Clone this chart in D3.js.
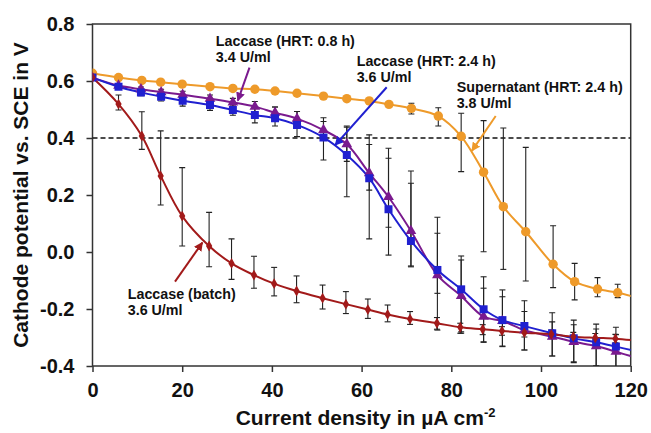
<!DOCTYPE html>
<html>
<head>
<meta charset="utf-8">
<script src="https://cdn.jsdelivr.net/npm/d3@7"></script>
<style>
  body { margin: 0; background: #fff; }
  text { font-family: "Liberation Sans", Arial, sans-serif; font-weight: bold; fill: #111; }
</style>
</head>
<body>
<div id="chart"></div>
<script>
// frame size
const FRAME_WIDTH = 651;
const FRAME_HEIGHT = 433;
const MARGINS = {left: 92.5, right: 20.3, top: 24, bottom: 67};

const VIS_WIDTH = FRAME_WIDTH - MARGINS.left - MARGINS.right;
const VIS_HEIGHT = FRAME_HEIGHT - MARGINS.top - MARGINS.bottom;

// ticks
const X_TICKS = [0, 20, 40, 60, 80, 100, 120];
const Y_TICKS = [-0.4, -0.2, 0.0, 0.2, 0.4, 0.6, 0.8];
const Y_TICK_LABELS = ["-0.4", "-0.2", "0.0", "0.2", "0.4", "0.6", "0.8"];

// Laccase (batch) - red
const X_BATCH = [0, 5.8, 11, 15.2, 20, 26, 31, 36, 40.5, 45.5, 51.3, 56.5, 61.4, 65.8, 70.8, 76.8, 82, 87, 91.3, 96.3, 102.3, 107.2, 112.1, 116.6, 121.5];
const Y_BATCH = [0.612, 0.519, 0.407, 0.267, 0.126, 0.021, -0.040, -0.081, -0.111, -0.137, -0.162, -0.183, -0.202, -0.219, -0.235, -0.250, -0.264, -0.271, -0.277, -0.283, -0.289, -0.297, -0.301, -0.304, -0.311];
const UP_BATCH = [0, 0.032, 0.085, 0.158, 0.170, 0.118, 0.086, 0.066, 0.057, 0.053, 0.046, 0.044, 0.037, 0.033, 0.026, 0.020, 0.014, 0.016, 0.015, 0.015, 0.015, 0.015, 0.015, 0.015, 0];
const DOWN_BATCH = [0, 0.021, 0.047, 0.102, 0.105, 0.073, 0.056, 0.046, 0.043, 0.041, 0.038, 0.033, 0.031, 0.026, 0.019, 0.021, 0.021, 0.019, 0.015, 0.015, 0.015, 0.015, 0.015, 0.015, 0];

// Supernatant (HRT 2.4 h) - orange
const X_SUPER = [0, 5.8, 11, 15.2, 20, 26.2, 31.3, 36.2, 40.7, 45.6, 51.5, 56.7, 61.7, 66.1, 71.1, 77.1, 82.2, 87.2, 91.6, 96.6, 102.7, 107.5, 112.6, 117.1, 121.5];
const Y_SUPER = [0.627, 0.612, 0.602, 0.596, 0.589, 0.580, 0.574, 0.571, 0.565, 0.557, 0.547, 0.538, 0.530, 0.518, 0.504, 0.477, 0.406, 0.280, 0.159, 0.071, -0.043, -0.104, -0.130, -0.143, -0.160];
const UP_SUPER = [0, 0, 0, 0, 0, 0, 0, 0, 0, 0, 0, 0, 0.006, 0.010, 0.018, 0.029, 0.081, 0.181, 0.276, 0.296, 0.135, 0.064, 0.040, 0.030, 0];
const DOWN_SUPER = [0, 0, 0, 0, 0, 0, 0, 0, 0, 0, 0, 0, 0.006, 0.010, 0.020, 0.035, 0.124, 0.279, 0.220, 0.173, 0.082, 0.064, 0.027, 0.017, 0];

// Laccase (HRT 2.4 h) - blue
const X_HRT24 = [0, 5.8, 10.8, 15.3, 20.1, 26.2, 31.3, 36.2, 40.7, 45.6, 51.5, 56.7, 61.7, 66, 71, 76.9, 82.2, 87.2, 91.4, 96.3, 102.5, 107.3, 112.3, 116.7, 121.5];
const Y_HRT24 = [0.612, 0.580, 0.560, 0.545, 0.531, 0.516, 0.498, 0.481, 0.469, 0.446, 0.402, 0.340, 0.259, 0.150, 0.039, -0.063, -0.131, -0.201, -0.239, -0.260, -0.285, -0.303, -0.317, -0.332, -0.349];
const UP_HRT24 = [0, 0.008, 0.012, 0.015, 0.019, 0.019, 0.018, 0.028, 0.040, 0.047, 0.069, 0.102, 0.152, 0.214, 0.245, 0.129, 0.117, 0.114, 0.106, 0.089, 0.072, 0.064, 0.064, 0.068, 0];
const DOWN_HRT24 = [0, 0.008, 0.012, 0.015, 0.019, 0.019, 0.018, 0.028, 0.027, 0.041, 0.079, 0.146, 0.213, 0.161, 0.091, 0.211, 0.149, 0.114, 0.091, 0.084, 0.080, 0.085, 0.083, 0.078, 0];

// Laccase (HRT 0.8 h) - purple
const X_HRT08 = [0, 5.8, 10.8, 15.3, 20.1, 26.2, 31.3, 36.2, 40.7, 45.6, 51.5, 56.7, 61.7, 66, 71, 76.9, 82.2, 87.2, 91.4, 96.3, 102.5, 107.3, 112.3, 116.7, 121.5];
const Y_HRT08 = [0.612, 0.584, 0.571, 0.561, 0.552, 0.538, 0.525, 0.510, 0.489, 0.468, 0.428, 0.378, 0.277, 0.193, 0.074, -0.081, -0.154, -0.227, -0.242, -0.274, -0.297, -0.315, -0.330, -0.350, -0.372];
const UP_HRT08 = [0, 0.006, 0.008, 0.010, 0.012, 0.013, 0.014, 0.018, 0.020, 0.025, 0.030, 0.060, 0.100, 0.136, 0.167, 0.203, 0.126, 0.100, 0.085, 0.065, 0.052, 0.060, 0.060, 0.060, 0];
const DOWN_HRT08 = [0, 0.006, 0.008, 0.010, 0.012, 0.013, 0.014, 0.018, 0.020, 0.025, 0.030, 0.060, 0.060, 0.106, 0.123, 0.064, 0.131, 0.090, 0.090, 0.070, 0.068, 0.070, 0.070, 0.060, 0];

// reference line
const REF_LINE = 0.4;

// annotations (label position and arrow from -> to, in data units)
const NOTE_LINES = [["Laccase (HRT: 0.8 h)", "3.4 U/ml"], ["Laccase (HRT: 2.4 h)", "3.6 U/ml"], ["Supernatant (HRT: 2.4 h)", "3.8 U/ml"], ["Laccase (batch)", "3.6 U/ml"]];
const NOTE_X = [27.5, 58.9, 81.2, 7.85];
const NOTE_Y = [0.723, 0.653, 0.560, -0.166];
const ARROW_FROM = [[35.0, 0.647], [65.6, 0.578], [89.9, 0.477], [18.4, -0.104]];
const ARROW_TO = [[32.4, 0.531], [54.1, 0.375], [84.6, 0.355], [24.5, 0.033]];

const COLORS = {batch: "#a21a1a", super: "#ee9a2a", hrt24: "#2020d0", hrt08: "#7a1a8e"};
const NOTE_COLORS = [COLORS.hrt08, COLORS.hrt24, COLORS.super, COLORS.batch];

const SERIES = [
  {key: "super", x: X_SUPER, y: Y_SUPER, up: UP_SUPER, down: DOWN_SUPER, shape: "circle"},
  {key: "hrt08", x: X_HRT08, y: Y_HRT08, up: UP_HRT08, down: DOWN_HRT08, shape: "triangle"},
  {key: "hrt24", x: X_HRT24, y: Y_HRT24, up: UP_HRT24, down: DOWN_HRT24, shape: "square"},
  {key: "batch", x: X_BATCH, y: Y_BATCH, up: UP_BATCH, down: DOWN_BATCH, shape: "diamond"}
];

const FRAME = d3.select("#chart")
                .append("svg")
                  .attr("width", FRAME_WIDTH)
                  .attr("height", FRAME_HEIGHT);

const X_SCALE = d3.scaleLinear().domain([0, 120]).range([MARGINS.left, MARGINS.left + VIS_WIDTH]);
const Y_SCALE = d3.scaleLinear().domain([-0.4, 0.8]).range([MARGINS.top + VIS_HEIGHT, MARGINS.top]);

// clip to plot area
FRAME.append("clipPath").attr("id", "plotclip")
  .append("rect")
    .attr("x", MARGINS.left).attr("y", MARGINS.top)
    .attr("width", VIS_WIDTH).attr("height", VIS_HEIGHT);

// arrow heads
const defs = FRAME.append("defs");
NOTE_COLORS.forEach((c, i) => {
  defs.append("marker")
      .attr("id", "arrow" + i)
      .attr("viewBox", "0 0 10 10")
      .attr("refX", 9).attr("refY", 5)
      .attr("markerWidth", 4.5).attr("markerHeight", 4.5)
      .attr("orient", "auto")
    .append("path")
      .attr("d", "M0,0 L10,5 L0,10 Z")
      .attr("fill", c);
});

// x axis
const xAxis = FRAME.append("g")
  .attr("transform", "translate(0," + (MARGINS.top + VIS_HEIGHT) + ")")
  .call(d3.axisBottom(X_SCALE).tickValues(X_TICKS).tickSize(6).tickPadding(11).tickSizeOuter(0));
xAxis.select(".domain").remove();
xAxis.selectAll("line").attr("stroke", "#333").attr("stroke-width", 1.5);
xAxis.selectAll("text").attr("font-size", "20px").attr("fill", "#111");

// y axis
const yAxis = FRAME.append("g")
  .attr("transform", "translate(" + MARGINS.left + ",0)")
  .call(d3.axisLeft(Y_SCALE).tickValues(Y_TICKS).tickFormat((d, i) => Y_TICK_LABELS[i]).tickSize(6).tickPadding(12).tickSizeOuter(0));
yAxis.select(".domain").remove();
yAxis.selectAll("line").attr("stroke", "#333").attr("stroke-width", 1.5);
yAxis.selectAll("text").attr("font-size", "20px").attr("fill", "#111");

// frame box
FRAME.append("rect")
  .attr("x", MARGINS.left).attr("y", MARGINS.top)
  .attr("width", VIS_WIDTH).attr("height", VIS_HEIGHT)
  .attr("fill", "none").attr("stroke", "#333").attr("stroke-width", 1.5);

const plot = FRAME.append("g").attr("clip-path", "url(#plotclip)");

// dashed 0.4 V line
plot.append("line")
  .attr("x1", MARGINS.left).attr("x2", MARGINS.left + VIS_WIDTH)
  .attr("y1", Y_SCALE(REF_LINE)).attr("y2", Y_SCALE(REF_LINE))
  .attr("stroke", "#111").attr("stroke-width", 1.5).attr("stroke-dasharray", "5,3");

// smoothed lines
const line = d3.line()
  .x((d) => X_SCALE(d[0]))
  .y((d) => Y_SCALE(d[1]))
  .curve(d3.curveCatmullRom.alpha(0.5));

SERIES.forEach((s) => {
  const pts = s.x.map((x, i) => [x, s.y[i]]);
  plot.append("path")
    .attr("d", line(pts))
    .attr("fill", "none")
    .attr("stroke", COLORS[s.key])
    .attr("stroke-width", 2);
});

// error bars
const CAP = 3;
SERIES.forEach((s) => {
  const g = plot.append("g").attr("stroke", "#222").attr("stroke-width", 1.1);
  s.x.forEach((x, i) => {
    if (s.up[i] === 0 && s.down[i] === 0) return;
    const cx = X_SCALE(x);
    const yt = Y_SCALE(s.y[i] + s.up[i]);
    const yb = Y_SCALE(s.y[i] - s.down[i]);
    g.append("line").attr("x1", cx).attr("x2", cx).attr("y1", yt).attr("y2", yb);
    g.append("line").attr("x1", cx - CAP).attr("x2", cx + CAP).attr("y1", yt).attr("y2", yt);
    g.append("line").attr("x1", cx - CAP).attr("x2", cx + CAP).attr("y1", yb).attr("y2", yb);
  });
});

// markers
const SYMBOLS = {
  circle: d3.symbol().type(d3.symbolCircle).size(70),
  triangle: d3.symbol().type(d3.symbolTriangle).size(50),
  square: d3.symbol().type(d3.symbolSquare).size(64),
  diamond: d3.symbol().type(d3.symbolDiamond).size(34)
};
SERIES.forEach((s) => {
  plot.selectAll(".pt-" + s.key)
    .data(s.x.map((x, i) => [x, s.y[i]]))
    .enter()
    .append("path")
      .attr("class", "pt-" + s.key)
      .attr("d", SYMBOLS[s.shape]())
      .attr("transform", (d) => "translate(" + X_SCALE(d[0]) + "," + Y_SCALE(d[1]) + ")")
      .attr("fill", COLORS[s.key]);
});

// annotations
NOTE_LINES.forEach((lines, i) => {
  const t = FRAME.append("text")
    .attr("x", X_SCALE(NOTE_X[i]))
    .attr("y", Y_SCALE(NOTE_Y[i]))
    .attr("font-size", "14.3px");
  lines.forEach((l, j) => {
    t.append("tspan").attr("x", X_SCALE(NOTE_X[i])).attr("dy", j === 0 ? 0 : 16).text(l);
  });
  FRAME.append("line")
    .attr("x1", X_SCALE(ARROW_FROM[i][0])).attr("y1", Y_SCALE(ARROW_FROM[i][1]))
    .attr("x2", X_SCALE(ARROW_TO[i][0])).attr("y2", Y_SCALE(ARROW_TO[i][1]))
    .attr("stroke", NOTE_COLORS[i]).attr("stroke-width", 2)
    .attr("marker-end", "url(#arrow" + i + ")");
});

// axis titles
FRAME.append("text")
  .attr("x", MARGINS.left + VIS_WIDTH / 2 + 4)
  .attr("y", 425)
  .attr("text-anchor", "middle")
  .attr("font-size", "21px")
  .text("Current density in µA cm")
  .append("tspan")
    .attr("font-size", "13px")
    .attr("dy", -8)
    .text("-2");

FRAME.append("text")
  .attr("transform", "translate(28," + (MARGINS.top + VIS_HEIGHT / 2) + ") rotate(-90)")
  .attr("text-anchor", "middle")
  .attr("font-size", "21px")
  .text("Cathode potential vs. SCE in V");
</script>
</body>
</html>
